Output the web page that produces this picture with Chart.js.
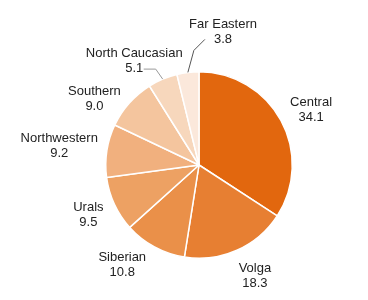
<!DOCTYPE html>
<html>
<head>
<meta charset="utf-8">
<script src="https://cdn.jsdelivr.net/npm/chart.js@4"></script>
<style>
  html, body { margin: 0; padding: 0; background: #fff; }
  #wrap { width: 368px; height: 300px; }
</style>
</head>
<body>
<div id="wrap"><canvas id="graficoPizza" width="368" height="300"></canvas></div>
<script>
// dados
const regioes = ["Central", "Volga", "Siberian", "Urals", "Northwestern", "Southern", "North Caucasian", "Far Eastern"];
const valores = [34.1, 18.3, 10.8, 9.5, 9.2, 9.0, 5.1, 3.8];
const cores = ["#e2670e", "#e77f32", "#ea9049", "#eda163", "#f1b07e", "#f4c59e", "#f7d7bc", "#fbe8db"];

// ajuste fino da posição dos rótulos (px, a partir do ponto no ângulo médio)
const ajusteRotulo = [[2, 5], [5, -4], [-17, -10], [3, -3], [-16, 0], [-11, 17], [-16, 11], [39, -9]];
// linhas guia: [dx cotovelo, dy cotovelo] a partir da borda da fatia
const guias = { 6: { cotovelo: [-7, -10], inicio: -12 }, 7: { cotovelo: [6, -22], inicio: 11 } };

const rotulosPlugin = {
  id: 'rotulos',
  afterDatasetsDraw(chart) {
    const ctx = chart.ctx;
    const arcs = chart.getDatasetMeta(0).data;
    ctx.save();
    ctx.font = '13px "Liberation Sans", Arial, sans-serif';
    ctx.fillStyle = '#222';
    ctx.textAlign = 'center';
    ctx.textBaseline = 'middle';
    arcs.forEach((arc, i) => {
      const meio = (arc.startAngle + arc.endAngle) / 2;
      const R = arc.outerRadius + 32;
      const x = arc.x + Math.cos(meio) * R + ajusteRotulo[i][0];
      const y = arc.y + Math.sin(meio) * R + ajusteRotulo[i][1];
      ctx.fillText(regioes[i], x, y - 7.5);
      const txtValor = valores[i].toFixed(1);
      ctx.fillText(txtValor, x, y + 7.5);

      const g = guias[i];
      if (g) {
        const bx = arc.x + Math.cos(meio) * arc.outerRadius;
        const by = arc.y + Math.sin(meio) * arc.outerRadius;
        const cx = bx + g.cotovelo[0];
        const cy = by + g.cotovelo[1];
        ctx.beginPath();
        ctx.strokeStyle = i === 6 ? '#999' : '#555';
        ctx.lineWidth = 1;
        ctx.moveTo(cx + g.inicio, i === 6 ? cy : cy - 11);
        ctx.lineTo(cx, cy);
        ctx.lineTo(bx, by);
        ctx.stroke();
      }
    });
    ctx.restore();
  }
};

new Chart(document.getElementById('graficoPizza'), {
  type: 'pie',
  data: {
    labels: regioes,
    datasets: [{ data: valores, backgroundColor: cores, borderColor: '#fff', borderWidth: 1.5, hoverOffset: 0 }]
  },
  options: {
    responsive: false,
    animation: false,
    layout: { padding: { left: 100, right: 70, top: 71, bottom: 41 } },
    plugins: { legend: { display: false }, tooltip: { enabled: false } }
  },
  plugins: [rotulosPlugin]
});
</script>
</body>
</html>
